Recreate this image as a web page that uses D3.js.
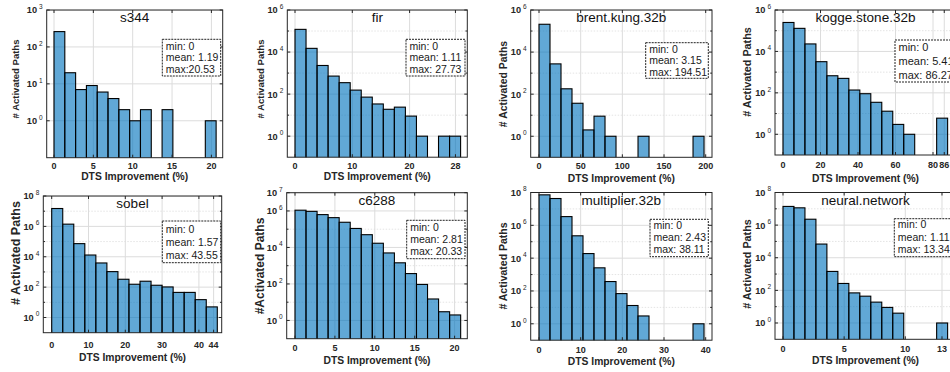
<!DOCTYPE html>
<html>
<head>
<meta charset="utf-8">
<script src="https://cdn.jsdelivr.net/npm/d3@7"></script>
<style>
  body { margin: 0; background: #fff; }
  svg { display: block; font-family: "Liberation Sans", Arial, Helvetica, sans-serif; }
</style>
</head>
<body>
<svg id="fig" width="950" height="372"></svg>
<script>
// ---- data: DTS improvement histograms (15 bins each) ----
const benchmarks = ["s344", "fir", "brent.kung.32b", "kogge.stone.32b",
                    "sobel", "c6288", "multiplier.32b", "neural.network"];

const s344Counts          = [260, 20, 7, 9, 6, 4, 2, 1, 2, 0, 2, 0, 0, 0, 1];
const firCounts           = [120000, 15000, 2300, 720, 350, 155, 72, 34, 19, 24, 9, 1, 0, 1, 1];
const brentKungCounts     = [210000, 2750, 180, 37, 2, 9, 1, 0, 0, 1, 0, 0, 0, 0, 1];
const koggeStoneCounts    = [250000, 130000, 23000, 3200, 670, 500, 137, 91, 35, 13, 3, 1, 0, 0, 6];
const sobelCounts         = [15000000, 1400000, 73000, 13000, 3900, 1050, 330, 155, 245, 133, 103, 45, 45, 15, 5];
const c6288Counts         = [1100000, 950000, 630000, 430000, 240000, 110000, 50000, 17000, 5000, 1440, 370, 94, 15, 3, 2];
const multiplierCounts    = [72000000, 43000000, 3400000, 230000, 19000, 2570, 375, 69, 13, 3, 0, 0, 0, 0, 1];
const neuralNetworkCounts = [14000000, 11500000, 2300000, 69000, 1450, 265, 70, 44, 19, 9, 4, 0, 0, 0, 1];

const binCounts = [s344Counts, firCounts, brentKungCounts, koggeStoneCounts,
                   sobelCounts, c6288Counts, multiplierCounts, neuralNetworkCounts];

// upper edge of the histogram bin range (lower edge is 0)
const binRangeEnd = [20.6, 28.9, 198, 87.8, 45, 20.76, 39.6, 13.46];

// summary statistics (%)
const minValues  = [0, 0, 0, 0, 0, 0, 0, 0];
const meanValues = [1.19, 1.11, 3.15, 5.41, 1.57, 2.81, 2.43, 1.11];
const maxValues  = [20.53, 27.73, 194.51, 86.27, 43.55, 20.33, 38.11, 13.34];
const maxLabelSep = [":", ": ", ": ", ": ", ": ", ": ", ": ", ": "];

// axis ticks
const xTickValues = [
  [0, 5, 10, 15, 20],
  [0, 10, 20, 28],
  [0, 50, 100, 150, 200],
  [0, 20, 40, 60, 80, 86],
  [0, 10, 20, 30, 40, 44],
  [0, 5, 10, 15, 20],
  [0, 10, 20, 30, 40],
  [0, 5, 10, 13]
];
const yTopExponent = [3, 6, 6, 6, 8, 7, 8, 8];
const yLabelExponents = [
  [0, 1, 2, 3],
  [0, 2, 4, 6],
  [0, 2, 4, 6],
  [0, 2, 4, 6],
  [0, 2, 4, 6, 8],
  [0, 2, 4, 6, 7],
  [0, 2, 4, 6, 8],
  [0, 2, 4, 6, 8]
];
const yAxisTitles = ["# Activated Paths", "# Activated Paths", "# Activated Paths", "# Activated Paths",
                     "# Activated Paths", "#Activated Paths", "# Activated Paths", "# Activated Paths"];
const xAxisTitle = "DTS Improvement (%)";

// ---- layout of the 2 x 4 grid of axes ----
const layout = [
  {l: 46.7, r: 222.7, t: 10,    b: 157.7, zx: 54,    ppu: 7.87,   tickY: 169.2, xlabY: 180.2, ylabX: 18.5,  ylabY: 79,  ylabSize: 9.5,
   box: {x: 162.3, y: 39.3, w: 58.4, h: 36.7, first: 46,    gap: 11.6, fs: 10.5}},
  {l: 287.3, r: 467.3, t: 10,   b: 157.2, zx: 295,   ppu: 5.73,   tickY: 169.2, xlabY: 179.5, ylabX: 263.5, ylabY: 79,  ylabSize: 9.5,
   box: {x: 406,   y: 39.3, w: 59,   h: 36.7, first: 45.7,  gap: 11.8, fs: 10.5}},
  {l: 530.7, r: 712,   t: 10,   b: 157.3, zx: 539,   ppu: 0.8335, tickY: 169.2, xlabY: 181.8, ylabX: 507,   ylabY: 84,  ylabSize: 10.4,
   box: {x: 645.7, y: 42.7, w: 62.6, h: 35.6, first: 49.3,  gap: 11.2, fs: 10.5}},
  {l: 775,   r: 956,   t: 10,   b: 155,   zx: 783,   ppu: 1.875,  tickY: 167.8, xlabY: 181.8, ylabX: 750.5, ylabY: 72,  ylabSize: 10.8,
   box: {x: 895,   y: 40,   w: 66,   h: 42,   first: 46.7,  gap: 14.1, fs: 11}},
  {l: 43.3,  r: 221.7, t: 196,  b: 332.7, zx: 51.7,  ppu: 3.68,   tickY: 347.8, xlabY: 361.2, ylabX: 19.5,  ylabY: 253, ylabSize: 12.5,
   box: {x: 162.3, y: 221,  w: 58.4, h: 41.7, first: 228.7, gap: 13.3, fs: 10.5}},
  {l: 286.7, r: 467.3, t: 192.7,b: 338.7, zx: 295,   ppu: 7.98,   tickY: 351.2, xlabY: 363.5, ylabX: 264,   ylabY: 266, ylabSize: 12,
   box: {x: 406.7, y: 220.3, w: 58.3, h: 38.4, first: 227,  gap: 12,   fs: 10.5}},
  {l: 530.7, r: 712,   t: 192.5,b: 340.2, zx: 539,   ppu: 4.167,  tickY: 352.8, xlabY: 364.5, ylabX: 507,   ylabY: 266, ylabSize: 10.5,
   box: {x: 650,   y: 219.3, w: 58.3, h: 37.4, first: 225.3, gap: 12,  fs: 10.5}},
  {l: 775,   r: 956,   t: 192.5,b: 339.3, zx: 783,   ppu: 12.23,  tickY: 351.8, xlabY: 363.5, ylabX: 750.5, ylabY: 264, ylabSize: 10.8,
   box: {x: 894.3, y: 218.7, w: 66,   h: 38,   first: 224.3, gap: 12.5, fs: 10.5}}
];

const barFill = "rgb(0,114,189)";
const axisColor = "#262626";
const svg = d3.select("#fig");
const defs = svg.append("defs");

benchmarks.forEach((name, i) => {
  const L = layout[i];
  const counts = binCounts[i];
  const nb = counts.length;

  const x = d3.scaleLinear()
    .domain([(L.l - L.zx) / L.ppu, (L.r - L.zx) / L.ppu])
    .range([L.l, L.r]);
  const y = d3.scaleLog()
    .domain([0.1, Math.pow(10, yTopExponent[i])])
    .range([L.b, L.t]);

  const g = svg.append("g");
  const clipId = "clip" + i;
  defs.append("clipPath").attr("id", clipId)
    .append("rect").attr("x", L.l).attr("y", L.t)
    .attr("width", L.r - L.l).attr("height", L.b - L.t);

  // grid
  const grid = g.append("g").attr("clip-path", `url(#${clipId})`);
  const decades = d3.range(0, yTopExponent[i] + 1);
  decades.forEach(e => {
    const major = yLabelExponents[i].includes(e);
    grid.append("line")
      .attr("x1", L.l).attr("x2", L.r)
      .attr("y1", y(Math.pow(10, e))).attr("y2", y(Math.pow(10, e)))
      .attr("stroke", major ? "#dcdcdc" : "#e4e4e4")
      .attr("stroke-width", 1)
      .attr("stroke-dasharray", major ? null : "1.5,1.5");
  });
  xTickValues[i].forEach(v => {
    grid.append("line")
      .attr("x1", x(v)).attr("x2", x(v))
      .attr("y1", L.t).attr("y2", L.b)
      .attr("stroke", "#dcdcdc").attr("stroke-width", 1);
  });

  // histogram bars
  const binW = binRangeEnd[i] / nb;
  const bins = counts.map((c, k) => ({x0: k * binW, x1: (k + 1) * binW, c}));
  g.append("g").attr("clip-path", `url(#${clipId})`)
    .selectAll("rect").data(bins.filter(d => d.c > 0)).join("rect")
    .attr("x", d => x(d.x0))
    .attr("width", d => x(d.x1) - x(d.x0))
    .attr("y", d => y(d.c))
    .attr("height", d => L.b - y(d.c) + 2)
    .attr("fill", barFill).attr("fill-opacity", 0.62)
    .attr("stroke", "#000").attr("stroke-width", 1.1);

  // axes box
  g.append("rect")
    .attr("x", L.l).attr("y", L.t)
    .attr("width", L.r - L.l).attr("height", L.b - L.t)
    .attr("fill", "none").attr("stroke", axisColor).attr("stroke-width", 1);

  // tick marks (inward, all four sides)
  const tk = g.append("g").attr("stroke", axisColor).attr("stroke-width", 1);
  decades.forEach(e => {
    const yy = y(Math.pow(10, e));
    const len = yLabelExponents[i].includes(e) ? 3 : 1.8;
    tk.append("line").attr("x1", L.l).attr("x2", L.l + len).attr("y1", yy).attr("y2", yy);
    tk.append("line").attr("x1", L.r).attr("x2", L.r - len).attr("y1", yy).attr("y2", yy);
  });
  xTickValues[i].forEach(v => {
    tk.append("line").attr("x1", x(v)).attr("x2", x(v)).attr("y1", L.b).attr("y2", L.b - 3);
    tk.append("line").attr("x1", x(v)).attr("x2", x(v)).attr("y1", L.t).attr("y2", L.t + 3);
  });

  // x tick labels
  g.append("g").selectAll("text").data(xTickValues[i]).join("text")
    .attr("x", d => x(d)).attr("y", L.tickY)
    .attr("text-anchor", "middle")
    .attr("font-size", 9).attr("font-weight", "bold").attr("fill", "#262626")
    .text(d => d3.format("d")(d));

  // y tick labels: 10 with superscript exponent
  yLabelExponents[i].forEach(e => {
    const t = g.append("text")
      .attr("x", L.l - 4).attr("y", y(Math.pow(10, e)) + 3.4)
      .attr("text-anchor", "end").attr("fill", "#262626");
    t.append("tspan").attr("font-size", 9.2).attr("font-weight", "bold").text("10");
    t.append("tspan").attr("font-size", 6.5).attr("dx", 2).attr("dy", -4.5).text(String(e));
  });

  // axis titles
  g.append("text")
    .attr("x", (L.l + L.r) / 2).attr("y", L.xlabY)
    .attr("text-anchor", "middle")
    .attr("font-size", 10.3).attr("font-weight", "bold").attr("fill", "#262626")
    .text(xAxisTitle);
  g.append("text")
    .attr("transform", `translate(${L.ylabX},${L.ylabY}) rotate(-90)`)
    .attr("text-anchor", "middle")
    .attr("font-size", L.ylabSize).attr("font-weight", "bold").attr("fill", "#262626")
    .text(yAxisTitles[i]);

  // summary box
  const B = L.box;
  g.append("rect")
    .attr("x", B.x).attr("y", B.y).attr("width", B.w).attr("height", B.h)
    .attr("fill", "#fff").attr("stroke", "#222").attr("stroke-width", 1)
    .attr("stroke-dasharray", "2,1");
  const lines = [
    "min: " + minValues[i],
    "mean: " + meanValues[i].toFixed(2),
    "max" + maxLabelSep[i] + maxValues[i].toFixed(2)
  ];
  lines.forEach((s, k) => {
    g.append("text")
      .attr("x", B.x + 3.5).attr("y", B.first + k * B.gap + 3.8)
      .attr("font-size", B.fs).attr("fill", "#1a1a1a")
      .text(s);
  });

  // title
  g.append("text")
    .attr("x", (L.l + L.r) / 2).attr("y", L.t + 12.3)
    .attr("text-anchor", "middle")
    .attr("font-size", 13.5).attr("fill", "#111")
    .text(name);
});
</script>
</body>
</html>
